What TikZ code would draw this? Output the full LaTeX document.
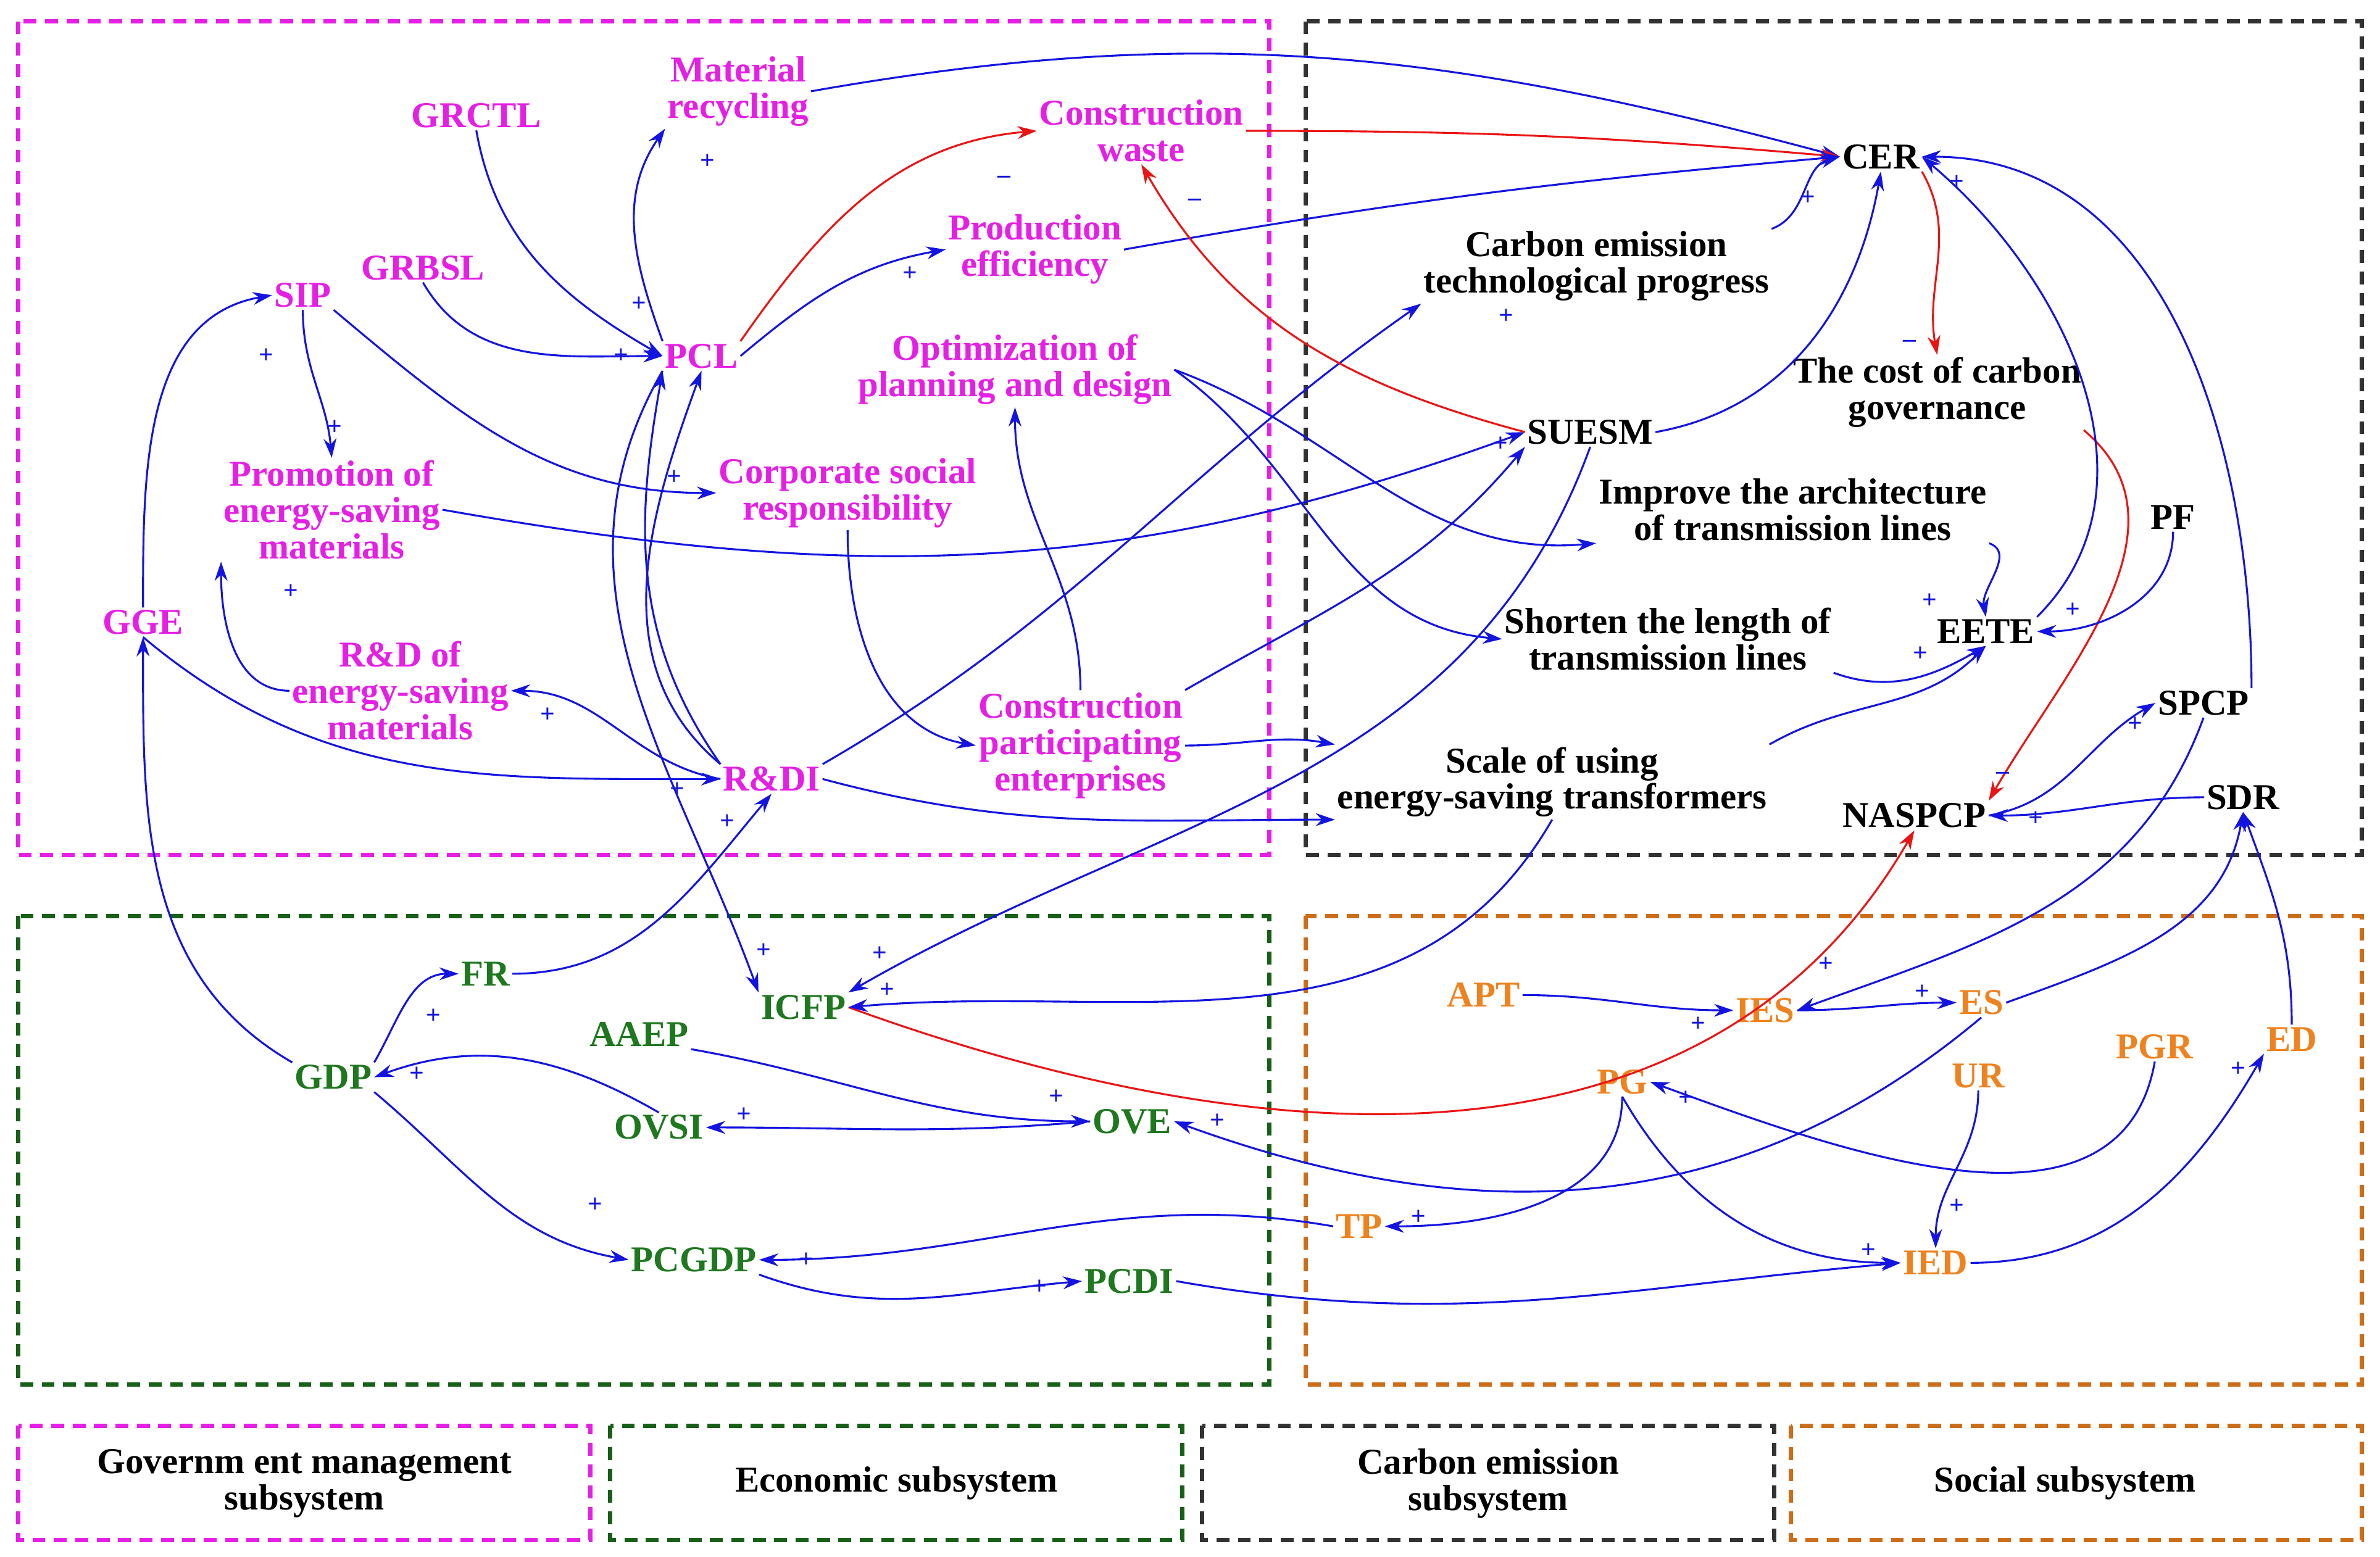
\documentclass[tikz,border=0pt]{standalone}
\usepackage{fontspec}
\setmainfont{Liberation Serif}[BoldFont={Liberation Serif Bold}]
\usetikzlibrary{arrows.meta}
\definecolor{mag}{RGB}{230,30,230}
\definecolor{grn}{RGB}{30,120,30}
\definecolor{org}{RGB}{240,130,30}
\definecolor{blu}{RGB}{20,20,225}
\definecolor{rd}{RGB}{235,20,20}
\definecolor{dk}{RGB}{50,50,50}
\newcommand{\pp}[4]{\node[pl] (#1) at (#2,#3) {#4};}
\begin{document}
\begin{tikzpicture}[x=0.025cm,y=-0.025cm,
 t/.style={font=\fontsize{17}{17}\selectfont\bfseries,align=center,inner sep=1pt},
 tm/.style={t,text=mag}, tb/.style={t,text=black}, tg/.style={t,text=grn}, to/.style={t,text=org},
 pl/.style={font=\fontsize{12}{12}\selectfont\bfseries,text=blu,inner sep=0pt},
 a/.style={-{Stealth[length=9pt,width=6pt]},blu,line width=0.9pt},
 r/.style={-{Stealth[length=9pt,width=6pt]},rd,line width=0.9pt},
 box/.style={dashed,line width=2pt,dash pattern=on 6pt off 4pt}]
\useasboundingbox (0,0) rectangle (1564,1023);
\draw[box,mag] (12,14) rectangle (834,562);
\draw[box,dk] (858,14) rectangle (1552,562);
\draw[box,grn!80!black] (12,602) rectangle (834,910);
\draw[box,org!85!black] (858,602) rectangle (1552,910);
\draw[box,mag] (12,937) rectangle (388,1012);
\draw[box,grn!80!black] (401,937) rectangle (777,1012);
\draw[box,dk] (790,937) rectangle (1166,1012);
\draw[box,org!85!black] (1177,937) rectangle (1552,1012);
\node[tb] (L1) at (200,975) {Governm ent management\\subsystem};
\node[tb] (L2) at (589,975) {Economic subsystem};
\node[tb] (L3) at (978,975) {Carbon emission\\subsystem};
\node[tb] (L4) at (1357,975) {Social subsystem};
% magenta
\node[tm] (MR) at (485,60) {Material\\recycling};
\node[tm] (GRCTL) at (313,76) {GRCTL};
\node[tm] (CW) at (750,86) {Construction\\waste};
\node[tm] (PE) at (680,164) {Production\\efficiency};
\node[tm] (GRBSL) at (278,176) {GRBSL};
\node[tm] (SIP) at (199,194) {SIP};
\node[tm] (PCL) at (461,234) {PCL};
\node[tm] (OPD) at (667,243) {Optimization of\\planning and design};
\node[tm] (PESM) at (218,335) {Promotion of\\energy-saving\\materials};
\node[tm] (CSR) at (557,324) {Corporate social\\responsibility};
\node[tm] (GGE) at (94,409) {GGE};
\node[tm] (RDM) at (263,454) {R\&D of\\energy-saving\\materials};
\node[tm] (CPE) at (710,490) {Construction\\participating\\enterprises};
\node[tm] (RDI) at (507,512) {R\&DI};
% black
\node[tb] (CER) at (1236,103) {CER};
\node[tb] (CETP) at (1049,175) {Carbon emission\\technological progress};
\node[tb] (CCG) at (1273,258) {The cost of carbon\\governance};
\node[tb] (SUESM) at (1045,284) {SUESM};
\node[tb] (IATL) at (1178,335) {Improve the architecture\\of transmission lines};
\node[tb] (PF) at (1428,340) {PF};
\node[tb] (SLTL) at (1096,420) {Shorten the length of\\transmission lines};
\node[tb] (EETE) at (1305,415) {EETE};
\node[tb] (SPCP) at (1448,462) {SPCP};
\node[tb] (SUET) at (1020,514) {Scale of using\\energy-saving transformers};
\node[tb] (NASPCP) at (1258,536) {NASPCP};
\node[tb] (SDR) at (1474,524) {SDR};
% green
\node[tg] (FR) at (319,640) {FR};
\node[tg] (ICFP) at (528,662) {ICFP};
\node[tg] (AAEP) at (420,680) {AAEP};
\node[tg] (GDP) at (219,708) {GDP};
\node[tg] (OVSI) at (433,741) {OVSI};
\node[tg] (OVE) at (744,737) {OVE};
\node[tg] (PCGDP) at (456,828) {PCGDP};
\node[tg] (PCDI) at (742,842) {PCDI};
% orange
\node[to] (APT) at (975,654) {APT};
\node[to] (IES) at (1160,664) {IES};
\node[to] (ES) at (1302,659) {ES};
\node[to] (PGR) at (1416,688) {PGR};
\node[to] (ED) at (1506,683) {ED};
\node[to] (PG) at (1066,711) {PG};
\node[to] (UR) at (1300,707) {UR};
\node[to] (TP) at (893,806) {TP};
\node[to] (IED) at (1272,830) {IED};
% edges
\draw[a] (MR.east) to[out=10,in=165] (CER.west);
\draw[r] (CW.east) to[out=0,in=175] (CER.west);
\draw[r] (PCL.north east) to[out=55,in=185] (CW.west);
\draw[a] (PE.east) to[out=10,in=185] (CER.west);
\draw[a] (PCL.east) to[out=40,in=190] (PE.west);
\draw[a] (PCL.north west) to[out=110,in=235] (MR.south west);
\draw[a] (GRCTL.south) to[out=-80,in=150] (PCL.west);
\draw[a] (GRBSL.south) to[out=-60,in=180] (PCL.west);
\draw[a] (SIP.south) to[out=-90,in=95] (PESM.north);
\draw[a] (SIP.south east) to[out=-40,in=180] (CSR.west);
\draw[a] (RDM.west) to[out=180,in=-90] (PESM.south west);
\draw[a] (PESM.east) to[out=-10,in=200] (SUESM.west);
\draw[a] (OPD.east) to[out=-20,in=185] (IATL.south west);
\draw[a] (OPD.east) to[out=-35,in=175] (SLTL.west);
\draw[a] (GGE.north) to[out=90,in=190] (SIP.west);
\draw[a] (GGE.south) to[out=-40,in=180] (RDI.west);
\draw[a] (RDI.west) to[out=170,in=0] (RDM.east);
\draw[a] (RDI.north west) to[out=140,in=-110] (PCL.south);
\draw[a] (RDI.north west) to[out=125,in=-100] (PCL.south west);
\draw[a] (PCL.south west) to[out=-120,in=110] (ICFP.north west);
\draw[a] (RDI.north east) to[out=30,in=215] (CETP.south west);
\draw[a] (RDI.east) to[out=-15,in=180] (SUET.south west);
\draw[a] (CPE.north) to[out=90,in=-90] (OPD.south);
\draw[a] (CPE.east) to[out=0,in=170] (SUET.north west);
\draw[a] (CPE.north east) to[out=30,in=230] (SUESM.south west);
\draw[a] (CSR.south) to[out=-90,in=170] (CPE.west);
\draw[r] (SUESM.west) to[out=165,in=-60] (CW.south);
\draw[a] (SUESM.east) to[out=10,in=-100] (CER.south);
\draw[a] (CETP.north east) to[out=20,in=195] (CER.west);
\draw[r] (CER.south east) to[out=-60,in=100] (CCG.north);
\draw[r] (CCG.south east) to[out=-40,in=60] (NASPCP.north east);
\draw[a] (EETE.north east) to[out=45,in=-40] (CER.east);
\draw[a] (PF.south) to[out=-90,in=0] (EETE.east);
\draw[a] (IATL.south east) to[out=-20,in=100] (EETE.north);
\draw[a] (SLTL.south east) to[out=-20,in=210] (EETE.south);
\draw[a] (SUET.north east) to[out=30,in=225] (EETE.south);
\draw[a] (SPCP.north east) to[out=90,in=0] (CER.east);
\draw[a] (NASPCP.east) to[out=10,in=210] (SPCP.west);
\draw[a] (SDR.west) to[out=180,in=0] (NASPCP.east);
\draw[a] (SPCP.south) to[out=-110,in=20] (IES.east);
\draw[a] (ES.east) to[out=20,in=-100] (SDR.south);
\draw[a] (ED.north) to[out=90,in=-70] (SDR.south);
\draw[r] (ICFP.east) to[out=-20,in=-120] (NASPCP.south);
\draw[a] (SUESM.south) to[out=-110,in=30] (ICFP.north east);
\draw[a] (SUET.south) to[out=-120,in=5] (ICFP.east);
\draw[a] (FR.east) to[out=0,in=-130] (RDI.south);
\draw[a] (GDP.north east) to[out=60,in=180] (FR.west);
\draw[a] (GDP.north west) to[out=150,in=-90] (GGE.south);
\draw[a] (OVSI.north) to[out=150,in=20] (GDP.east);
\draw[a] (GDP.south east) to[out=-40,in=170] (PCGDP.west);
\draw[a] (AAEP.south east) to[out=-10,in=180] (OVE.west);
\draw[a] (OVE.west) to[out=185,in=0] (OVSI.east);
\draw[a] (ES.south) to[out=-140,in=-20] (OVE.east);
\draw[a] (TP.west) to[out=170,in=0] (PCGDP.east);
\draw[a] (PCGDP.south east) to[out=-20,in=185] (PCDI.west);
\draw[a] (PCDI.east) to[out=-10,in=185] (IED.west);
\draw[a] (APT.east) to[out=0,in=180] (IES.west);
\draw[a] (IES.east) to[out=0,in=180] (ES.west);
\draw[a] (PG.south) to[out=-90,in=0] (TP.east);
\draw[a] (PG.south) to[out=-60,in=180] (IED.west);
\draw[a] (PGR.south) to[out=-100,in=-20] (PG.east);
\draw[a] (UR.south) to[out=-90,in=90] (IED.north);
\draw[a] (IED.east) to[out=0,in=-120] (ED.south west);
% polarity signs
\pp{s1}{465}{106}{+} \pp{s2}{660}{118}{--} \pp{s3}{598}{180}{+}
\pp{s4}{420}{200}{+} \pp{s5}{408}{234}{+} \pp{s6}{220}{281}{+}
\pp{s7}{443}{314}{+} \pp{s8}{191}{389}{+} \pp{s9}{175}{234}{+}
\pp{s10}{445}{519}{+} \pp{s11}{360}{470}{+} \pp{s12}{990}{208}{+}
\pp{s13}{785}{133}{--} \pp{s14}{1188}{130}{+} \pp{s15}{1255}{226}{--}
\pp{s16}{1268}{395}{+} \pp{s17}{1262}{430}{+} \pp{s18}{1362}{401}{+}
\pp{s19}{1403}{476}{+} \pp{s20}{1338}{538}{+} \pp{s21}{1200}{634}{+}
\pp{s22}{578}{627}{+} \pp{s23}{583}{651}{+} \pp{s24}{478}{540}{+}
\pp{s25}{285}{668}{+} \pp{s26}{274}{706}{+} \pp{s27}{391}{792}{+}
\pp{s28}{694}{721}{+} \pp{s29}{489}{733}{+} \pp{s30}{800}{737}{+}
\pp{s31}{530}{828}{+} \pp{s32}{683}{846}{+} \pp{s33}{1228}{822}{+}
\pp{s34}{1116}{673}{+} \pp{s35}{1263}{652}{+} \pp{s36}{932}{800}{+}
\pp{s37}{1108}{722}{+} \pp{s38}{1286}{793}{+} \pp{s39}{1471}{703}{+}
\pp{s40}{502}{625}{+} \pp{s41}{1286}{120}{+} \pp{s42}{1316}{510}{--}
\pp{s43}{986}{292}{+}
\end{tikzpicture}
\end{document}
